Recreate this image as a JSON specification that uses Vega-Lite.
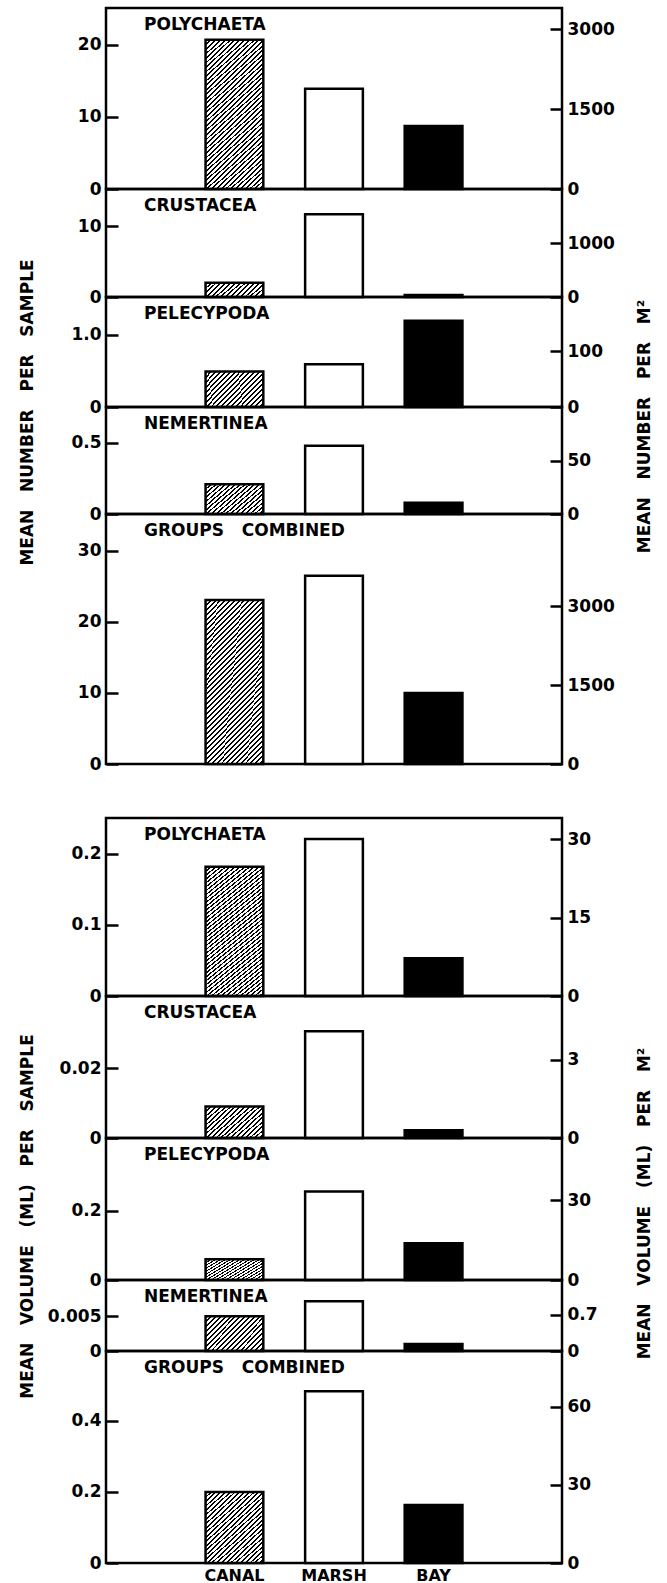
{
"$schema": "https://vega.github.io/schema/vega-lite/v6.json",
"background": "white",
"padding": {"left": 17, "top": 6, "right": 5, "bottom": 0},
"params": [
 {"name": "hA", "value": {"gradient": "linear", "x1": 0, "y1": 0, "x2": 1.18, "y2": 0.306, "stops": [
{"offset":0,"color":"#000"},{"offset":0.0267,"color":"#000"},{"offset":0.0267,"color":"#fff"},{"offset":0.0667,"color":"#fff"},
{"offset":0.0667,"color":"#000"},{"offset":0.0934,"color":"#000"},{"offset":0.0934,"color":"#fff"},{"offset":0.1333,"color":"#fff"},
{"offset":0.1333,"color":"#000"},{"offset":0.16,"color":"#000"},{"offset":0.16,"color":"#fff"},{"offset":0.2,"color":"#fff"},
{"offset":0.2,"color":"#000"},{"offset":0.2267,"color":"#000"},{"offset":0.2267,"color":"#fff"},{"offset":0.2667,"color":"#fff"},
{"offset":0.2667,"color":"#000"},{"offset":0.2934,"color":"#000"},{"offset":0.2934,"color":"#fff"},{"offset":0.3333,"color":"#fff"},
{"offset":0.3333,"color":"#000"},{"offset":0.36,"color":"#000"},{"offset":0.36,"color":"#fff"},{"offset":0.4,"color":"#fff"},
{"offset":0.4,"color":"#000"},{"offset":0.4267,"color":"#000"},{"offset":0.4267,"color":"#fff"},{"offset":0.4667,"color":"#fff"},
{"offset":0.4667,"color":"#000"},{"offset":0.4934,"color":"#000"},{"offset":0.4934,"color":"#fff"},{"offset":0.5333,"color":"#fff"},
{"offset":0.5333,"color":"#000"},{"offset":0.56,"color":"#000"},{"offset":0.56,"color":"#fff"},{"offset":0.6,"color":"#fff"},
{"offset":0.6,"color":"#000"},{"offset":0.6267,"color":"#000"},{"offset":0.6267,"color":"#fff"},{"offset":0.6667,"color":"#fff"},
{"offset":0.6667,"color":"#000"},{"offset":0.6934,"color":"#000"},{"offset":0.6934,"color":"#fff"},{"offset":0.7333,"color":"#fff"},
{"offset":0.7333,"color":"#000"},{"offset":0.76,"color":"#000"},{"offset":0.76,"color":"#fff"},{"offset":0.8,"color":"#fff"},
{"offset":0.8,"color":"#000"},{"offset":0.8267,"color":"#000"},{"offset":0.8267,"color":"#fff"},{"offset":0.8667,"color":"#fff"},
{"offset":0.8667,"color":"#000"},{"offset":0.8934,"color":"#000"},{"offset":0.8934,"color":"#fff"},{"offset":0.9333,"color":"#fff"},
{"offset":0.9333,"color":"#000"},{"offset":0.96,"color":"#000"},{"offset":0.96,"color":"#fff"},{"offset":1,"color":"#fff"}]}},
 {"name": "hB", "value": {"gradient": "linear", "x1": 0, "y1": 0, "x2": 1.179, "y2": 0.698, "stops": [
{"offset":0,"color":"#000"},{"offset":0.0211,"color":"#000"},{"offset":0.0211,"color":"#fff"},{"offset":0.0526,"color":"#fff"},
{"offset":0.0526,"color":"#000"},{"offset":0.0737,"color":"#000"},{"offset":0.0737,"color":"#fff"},{"offset":0.1053,"color":"#fff"},
{"offset":0.1053,"color":"#000"},{"offset":0.1264,"color":"#000"},{"offset":0.1264,"color":"#fff"},{"offset":0.1579,"color":"#fff"},
{"offset":0.1579,"color":"#000"},{"offset":0.179,"color":"#000"},{"offset":0.179,"color":"#fff"},{"offset":0.2105,"color":"#fff"},
{"offset":0.2105,"color":"#000"},{"offset":0.2316,"color":"#000"},{"offset":0.2316,"color":"#fff"},{"offset":0.2632,"color":"#fff"},
{"offset":0.2632,"color":"#000"},{"offset":0.2843,"color":"#000"},{"offset":0.2843,"color":"#fff"},{"offset":0.3158,"color":"#fff"},
{"offset":0.3158,"color":"#000"},{"offset":0.3369,"color":"#000"},{"offset":0.3369,"color":"#fff"},{"offset":0.3684,"color":"#fff"},
{"offset":0.3684,"color":"#000"},{"offset":0.3895,"color":"#000"},{"offset":0.3895,"color":"#fff"},{"offset":0.4211,"color":"#fff"},
{"offset":0.4211,"color":"#000"},{"offset":0.4422,"color":"#000"},{"offset":0.4422,"color":"#fff"},{"offset":0.4737,"color":"#fff"},
{"offset":0.4737,"color":"#000"},{"offset":0.4948,"color":"#000"},{"offset":0.4948,"color":"#fff"},{"offset":0.5263,"color":"#fff"},
{"offset":0.5263,"color":"#000"},{"offset":0.5474,"color":"#000"},{"offset":0.5474,"color":"#fff"},{"offset":0.5789,"color":"#fff"},
{"offset":0.5789,"color":"#000"},{"offset":0.6,"color":"#000"},{"offset":0.6,"color":"#fff"},{"offset":0.6316,"color":"#fff"},
{"offset":0.6316,"color":"#000"},{"offset":0.6527,"color":"#000"},{"offset":0.6527,"color":"#fff"},{"offset":0.6842,"color":"#fff"},
{"offset":0.6842,"color":"#000"},{"offset":0.7053,"color":"#000"},{"offset":0.7053,"color":"#fff"},{"offset":0.7368,"color":"#fff"},
{"offset":0.7368,"color":"#000"},{"offset":0.7579,"color":"#000"},{"offset":0.7579,"color":"#fff"},{"offset":0.7895,"color":"#fff"},
{"offset":0.7895,"color":"#000"},{"offset":0.8106,"color":"#000"},{"offset":0.8106,"color":"#fff"},{"offset":0.8421,"color":"#fff"},
{"offset":0.8421,"color":"#000"},{"offset":0.8632,"color":"#000"},{"offset":0.8632,"color":"#fff"},{"offset":0.8947,"color":"#fff"},
{"offset":0.8947,"color":"#000"},{"offset":0.9158,"color":"#000"},{"offset":0.9158,"color":"#fff"},{"offset":0.9474,"color":"#fff"},
{"offset":0.9474,"color":"#000"},{"offset":0.9685,"color":"#000"},{"offset":0.9685,"color":"#fff"},{"offset":1,"color":"#fff"}]}},
 {"name": "hC", "value": {"gradient": "linear", "x1": 0, "y1": 0, "x2": 0.848, "y2": 1.115, "stops": [
{"offset":0,"color":"#000"},{"offset":0.0143,"color":"#000"},{"offset":0.0143,"color":"#fff"},{"offset":0.0357,"color":"#fff"},
{"offset":0.0357,"color":"#000"},{"offset":0.05,"color":"#000"},{"offset":0.05,"color":"#fff"},{"offset":0.0714,"color":"#fff"},
{"offset":0.0714,"color":"#000"},{"offset":0.0857,"color":"#000"},{"offset":0.0857,"color":"#fff"},{"offset":0.1071,"color":"#fff"},
{"offset":0.1071,"color":"#000"},{"offset":0.1214,"color":"#000"},{"offset":0.1214,"color":"#fff"},{"offset":0.1429,"color":"#fff"},
{"offset":0.1429,"color":"#000"},{"offset":0.1572,"color":"#000"},{"offset":0.1572,"color":"#fff"},{"offset":0.1786,"color":"#fff"},
{"offset":0.1786,"color":"#000"},{"offset":0.1929,"color":"#000"},{"offset":0.1929,"color":"#fff"},{"offset":0.2143,"color":"#fff"},
{"offset":0.2143,"color":"#000"},{"offset":0.2286,"color":"#000"},{"offset":0.2286,"color":"#fff"},{"offset":0.25,"color":"#fff"},
{"offset":0.25,"color":"#000"},{"offset":0.2643,"color":"#000"},{"offset":0.2643,"color":"#fff"},{"offset":0.2857,"color":"#fff"},
{"offset":0.2857,"color":"#000"},{"offset":0.3,"color":"#000"},{"offset":0.3,"color":"#fff"},{"offset":0.3214,"color":"#fff"},
{"offset":0.3214,"color":"#000"},{"offset":0.3357,"color":"#000"},{"offset":0.3357,"color":"#fff"},{"offset":0.3571,"color":"#fff"},
{"offset":0.3571,"color":"#000"},{"offset":0.3714,"color":"#000"},{"offset":0.3714,"color":"#fff"},{"offset":0.3929,"color":"#fff"},
{"offset":0.3929,"color":"#000"},{"offset":0.4072,"color":"#000"},{"offset":0.4072,"color":"#fff"},{"offset":0.4286,"color":"#fff"},
{"offset":0.4286,"color":"#000"},{"offset":0.4429,"color":"#000"},{"offset":0.4429,"color":"#fff"},{"offset":0.4643,"color":"#fff"},
{"offset":0.4643,"color":"#000"},{"offset":0.4786,"color":"#000"},{"offset":0.4786,"color":"#fff"},{"offset":0.5,"color":"#fff"},
{"offset":0.5,"color":"#000"},{"offset":0.5143,"color":"#000"},{"offset":0.5143,"color":"#fff"},{"offset":0.5357,"color":"#fff"},
{"offset":0.5357,"color":"#000"},{"offset":0.55,"color":"#000"},{"offset":0.55,"color":"#fff"},{"offset":0.5714,"color":"#fff"},
{"offset":0.5714,"color":"#000"},{"offset":0.5857,"color":"#000"},{"offset":0.5857,"color":"#fff"},{"offset":0.6071,"color":"#fff"},
{"offset":0.6071,"color":"#000"},{"offset":0.6214,"color":"#000"},{"offset":0.6214,"color":"#fff"},{"offset":0.6429,"color":"#fff"},
{"offset":0.6429,"color":"#000"},{"offset":0.6572,"color":"#000"},{"offset":0.6572,"color":"#fff"},{"offset":0.6786,"color":"#fff"},
{"offset":0.6786,"color":"#000"},{"offset":0.6929,"color":"#000"},{"offset":0.6929,"color":"#fff"},{"offset":0.7143,"color":"#fff"},
{"offset":0.7143,"color":"#000"},{"offset":0.7286,"color":"#000"},{"offset":0.7286,"color":"#fff"},{"offset":0.75,"color":"#fff"},
{"offset":0.75,"color":"#000"},{"offset":0.7643,"color":"#000"},{"offset":0.7643,"color":"#fff"},{"offset":0.7857,"color":"#fff"},
{"offset":0.7857,"color":"#000"},{"offset":0.8,"color":"#000"},{"offset":0.8,"color":"#fff"},{"offset":0.8214,"color":"#fff"},
{"offset":0.8214,"color":"#000"},{"offset":0.8357,"color":"#000"},{"offset":0.8357,"color":"#fff"},{"offset":0.8571,"color":"#fff"},
{"offset":0.8571,"color":"#000"},{"offset":0.8714,"color":"#000"},{"offset":0.8714,"color":"#fff"},{"offset":0.8929,"color":"#fff"},
{"offset":0.8929,"color":"#000"},{"offset":0.9072,"color":"#000"},{"offset":0.9072,"color":"#fff"},{"offset":0.9286,"color":"#fff"},
{"offset":0.9286,"color":"#000"},{"offset":0.9429,"color":"#000"},{"offset":0.9429,"color":"#fff"},{"offset":0.9643,"color":"#fff"},
{"offset":0.9643,"color":"#000"},{"offset":0.9786,"color":"#000"},{"offset":0.9786,"color":"#fff"},{"offset":1,"color":"#fff"}]}},
 {"name": "hD", "value": {"gradient": "linear", "x1": 0, "y1": 0, "x2": 0.4395, "y2": 1.2045, "stops": [
{"offset":0,"color":"#000"},{"offset":0.0089,"color":"#000"},{"offset":0.0089,"color":"#fff"},{"offset":0.0222,"color":"#fff"},
{"offset":0.0222,"color":"#000"},{"offset":0.0311,"color":"#000"},{"offset":0.0311,"color":"#fff"},{"offset":0.0444,"color":"#fff"},
{"offset":0.0444,"color":"#000"},{"offset":0.0533,"color":"#000"},{"offset":0.0533,"color":"#fff"},{"offset":0.0667,"color":"#fff"},
{"offset":0.0667,"color":"#000"},{"offset":0.0756,"color":"#000"},{"offset":0.0756,"color":"#fff"},{"offset":0.0889,"color":"#fff"},
{"offset":0.0889,"color":"#000"},{"offset":0.0978,"color":"#000"},{"offset":0.0978,"color":"#fff"},{"offset":0.1111,"color":"#fff"},
{"offset":0.1111,"color":"#000"},{"offset":0.12,"color":"#000"},{"offset":0.12,"color":"#fff"},{"offset":0.1333,"color":"#fff"},
{"offset":0.1333,"color":"#000"},{"offset":0.1422,"color":"#000"},{"offset":0.1422,"color":"#fff"},{"offset":0.1556,"color":"#fff"},
{"offset":0.1556,"color":"#000"},{"offset":0.1645,"color":"#000"},{"offset":0.1645,"color":"#fff"},{"offset":0.1778,"color":"#fff"},
{"offset":0.1778,"color":"#000"},{"offset":0.1867,"color":"#000"},{"offset":0.1867,"color":"#fff"},{"offset":0.2,"color":"#fff"},
{"offset":0.2,"color":"#000"},{"offset":0.2089,"color":"#000"},{"offset":0.2089,"color":"#fff"},{"offset":0.2222,"color":"#fff"},
{"offset":0.2222,"color":"#000"},{"offset":0.2311,"color":"#000"},{"offset":0.2311,"color":"#fff"},{"offset":0.2444,"color":"#fff"},
{"offset":0.2444,"color":"#000"},{"offset":0.2533,"color":"#000"},{"offset":0.2533,"color":"#fff"},{"offset":0.2667,"color":"#fff"},
{"offset":0.2667,"color":"#000"},{"offset":0.2756,"color":"#000"},{"offset":0.2756,"color":"#fff"},{"offset":0.2889,"color":"#fff"},
{"offset":0.2889,"color":"#000"},{"offset":0.2978,"color":"#000"},{"offset":0.2978,"color":"#fff"},{"offset":0.3111,"color":"#fff"},
{"offset":0.3111,"color":"#000"},{"offset":0.32,"color":"#000"},{"offset":0.32,"color":"#fff"},{"offset":0.3333,"color":"#fff"},
{"offset":0.3333,"color":"#000"},{"offset":0.3422,"color":"#000"},{"offset":0.3422,"color":"#fff"},{"offset":0.3556,"color":"#fff"},
{"offset":0.3556,"color":"#000"},{"offset":0.3645,"color":"#000"},{"offset":0.3645,"color":"#fff"},{"offset":0.3778,"color":"#fff"},
{"offset":0.3778,"color":"#000"},{"offset":0.3867,"color":"#000"},{"offset":0.3867,"color":"#fff"},{"offset":0.4,"color":"#fff"},
{"offset":0.4,"color":"#000"},{"offset":0.4089,"color":"#000"},{"offset":0.4089,"color":"#fff"},{"offset":0.4222,"color":"#fff"},
{"offset":0.4222,"color":"#000"},{"offset":0.4311,"color":"#000"},{"offset":0.4311,"color":"#fff"},{"offset":0.4444,"color":"#fff"},
{"offset":0.4444,"color":"#000"},{"offset":0.4533,"color":"#000"},{"offset":0.4533,"color":"#fff"},{"offset":0.4667,"color":"#fff"},
{"offset":0.4667,"color":"#000"},{"offset":0.4756,"color":"#000"},{"offset":0.4756,"color":"#fff"},{"offset":0.4889,"color":"#fff"},
{"offset":0.4889,"color":"#000"},{"offset":0.4978,"color":"#000"},{"offset":0.4978,"color":"#fff"},{"offset":0.5111,"color":"#fff"},
{"offset":0.5111,"color":"#000"},{"offset":0.52,"color":"#000"},{"offset":0.52,"color":"#fff"},{"offset":0.5333,"color":"#fff"},
{"offset":0.5333,"color":"#000"},{"offset":0.5422,"color":"#000"},{"offset":0.5422,"color":"#fff"},{"offset":0.5556,"color":"#fff"},
{"offset":0.5556,"color":"#000"},{"offset":0.5645,"color":"#000"},{"offset":0.5645,"color":"#fff"},{"offset":0.5778,"color":"#fff"},
{"offset":0.5778,"color":"#000"},{"offset":0.5867,"color":"#000"},{"offset":0.5867,"color":"#fff"},{"offset":0.6,"color":"#fff"},
{"offset":0.6,"color":"#000"},{"offset":0.6089,"color":"#000"},{"offset":0.6089,"color":"#fff"},{"offset":0.6222,"color":"#fff"},
{"offset":0.6222,"color":"#000"},{"offset":0.6311,"color":"#000"},{"offset":0.6311,"color":"#fff"},{"offset":0.6444,"color":"#fff"},
{"offset":0.6444,"color":"#000"},{"offset":0.6533,"color":"#000"},{"offset":0.6533,"color":"#fff"},{"offset":0.6667,"color":"#fff"},
{"offset":0.6667,"color":"#000"},{"offset":0.6756,"color":"#000"},{"offset":0.6756,"color":"#fff"},{"offset":0.6889,"color":"#fff"},
{"offset":0.6889,"color":"#000"},{"offset":0.6978,"color":"#000"},{"offset":0.6978,"color":"#fff"},{"offset":0.7111,"color":"#fff"},
{"offset":0.7111,"color":"#000"},{"offset":0.72,"color":"#000"},{"offset":0.72,"color":"#fff"},{"offset":0.7333,"color":"#fff"},
{"offset":0.7333,"color":"#000"},{"offset":0.7422,"color":"#000"},{"offset":0.7422,"color":"#fff"},{"offset":0.7556,"color":"#fff"},
{"offset":0.7556,"color":"#000"},{"offset":0.7645,"color":"#000"},{"offset":0.7645,"color":"#fff"},{"offset":0.7778,"color":"#fff"},
{"offset":0.7778,"color":"#000"},{"offset":0.7867,"color":"#000"},{"offset":0.7867,"color":"#fff"},{"offset":0.8,"color":"#fff"},
{"offset":0.8,"color":"#000"},{"offset":0.8089,"color":"#000"},{"offset":0.8089,"color":"#fff"},{"offset":0.8222,"color":"#fff"},
{"offset":0.8222,"color":"#000"},{"offset":0.8311,"color":"#000"},{"offset":0.8311,"color":"#fff"},{"offset":0.8444,"color":"#fff"},
{"offset":0.8444,"color":"#000"},{"offset":0.8533,"color":"#000"},{"offset":0.8533,"color":"#fff"},{"offset":0.8667,"color":"#fff"},
{"offset":0.8667,"color":"#000"},{"offset":0.8756,"color":"#000"},{"offset":0.8756,"color":"#fff"},{"offset":0.8889,"color":"#fff"},
{"offset":0.8889,"color":"#000"},{"offset":0.8978,"color":"#000"},{"offset":0.8978,"color":"#fff"},{"offset":0.9111,"color":"#fff"},
{"offset":0.9111,"color":"#000"},{"offset":0.92,"color":"#000"},{"offset":0.92,"color":"#fff"},{"offset":0.9333,"color":"#fff"},
{"offset":0.9333,"color":"#000"},{"offset":0.9422,"color":"#000"},{"offset":0.9422,"color":"#fff"},{"offset":0.9556,"color":"#fff"},
{"offset":0.9556,"color":"#000"},{"offset":0.9645,"color":"#000"},{"offset":0.9645,"color":"#fff"},{"offset":0.9778,"color":"#fff"},
{"offset":0.9778,"color":"#000"},{"offset":0.9867,"color":"#000"},{"offset":0.9867,"color":"#fff"},{"offset":1,"color":"#fff"}]}}
],
"datasets": {"d": [
{"g":"N","t":"POLYCHAETA","s":"CANAL","v":20.7},{"g":"N","t":"POLYCHAETA","s":"MARSH","v":13.9},{"g":"N","t":"POLYCHAETA","s":"BAY","v":8.75},
{"g":"N","t":"CRUSTACEA","s":"CANAL","v":2.0},{"g":"N","t":"CRUSTACEA","s":"MARSH","v":11.7},{"g":"N","t":"CRUSTACEA","s":"BAY","v":0.28},
{"g":"N","t":"PELECYPODA","s":"CANAL","v":0.49},{"g":"N","t":"PELECYPODA","s":"MARSH","v":0.59},{"g":"N","t":"PELECYPODA","s":"BAY","v":1.19},
{"g":"N","t":"NEMERTINEA","s":"CANAL","v":0.21},{"g":"N","t":"NEMERTINEA","s":"MARSH","v":0.48},{"g":"N","t":"NEMERTINEA","s":"BAY","v":0.08},
{"g":"N","t":"COMBINED","s":"CANAL","v":23.1},{"g":"N","t":"COMBINED","s":"MARSH","v":26.5},{"g":"N","t":"COMBINED","s":"BAY","v":10.0},
{"g":"V","t":"POLYCHAETA","s":"CANAL","v":0.182},{"g":"V","t":"POLYCHAETA","s":"MARSH","v":0.221},{"g":"V","t":"POLYCHAETA","s":"BAY","v":0.053},
{"g":"V","t":"CRUSTACEA","s":"CANAL","v":0.009},{"g":"V","t":"CRUSTACEA","s":"MARSH","v":0.0305},{"g":"V","t":"CRUSTACEA","s":"BAY","v":0.0022},
{"g":"V","t":"PELECYPODA","s":"CANAL","v":0.06},{"g":"V","t":"PELECYPODA","s":"MARSH","v":0.255},{"g":"V","t":"PELECYPODA","s":"BAY","v":0.106},
{"g":"V","t":"NEMERTINEA","s":"CANAL","v":0.005},{"g":"V","t":"NEMERTINEA","s":"MARSH","v":0.00716},{"g":"V","t":"NEMERTINEA","s":"BAY","v":0.001},
{"g":"V","t":"COMBINED","s":"CANAL","v":0.2},{"g":"V","t":"COMBINED","s":"MARSH","v":0.484},{"g":"V","t":"COMBINED","s":"BAY","v":0.163}
]},
"data": {"name": "d"},
"spacing": 42,
"vconcat": [
{"spacing": 0, "bounds": "flush", "vconcat": [
 {"width": 456, "height": 181, "title": {"text": "POLYCHAETA"},
  "transform": [{"filter": "datum.g==='N' && datum.t==='POLYCHAETA'"}],
  "layer": [
   {"encoding": {"x": {"field":"s","type":"nominal","scale":{"domain":["CANAL","MARSH","BAY"],"paddingInner":0.42,"paddingOuter":1.22},"axis":null},
                 "y": {"field":"v","type":"quantitative","scale":{"domain":[0,25.1],"nice":false},"axis":{"values":[0,10,20],"labelExpr":"''+datum.value","title":"MEAN \u00a0 NUMBER \u00a0 PER \u00a0 SAMPLE","titleX":-78.5,"titleY":404,"titleAngle":270,"titleBaseline":"middle","titleAlign":"center"}}},
    "layer": [
     {"transform":[{"filter":"datum.s==='CANAL'"}],"mark":{"type":"bar","fill":{"expr":"hD"}}},
     {"transform":[{"filter":"datum.s!=='CANAL'"}],"mark":{"type":"bar"},"encoding":{"fill":{"field":"s","type":"nominal","scale":{"domain":["MARSH","BAY"],"range":["white","black"]},"legend":null}}}
    ]},
   {"mark":{"type":"rule","opacity":0},"encoding":{"y":{"datum":0,"type":"quantitative","scale":{"domain":[0,3400],"nice":false},"axis":{"orient":"right","values":[0,1500,3000],"labelExpr":"''+datum.value","title":"MEAN \u00a0 NUMBER \u00a0 PER \u00a0 M²","titleX":82.5,"titleY":418,"titleAngle":270,"titleBaseline":"middle","titleAlign":"center"}}}}
  ],
  "resolve": {"scale": {"y": "independent"}}},
 {"width": 456, "height": 108, "title": {"text": "CRUSTACEA"},
  "transform": [{"filter": "datum.g==='N' && datum.t==='CRUSTACEA'"}],
  "layer": [
   {"encoding": {"x": {"field":"s","type":"nominal","scale":{"domain":["CANAL","MARSH","BAY"],"paddingInner":0.42,"paddingOuter":1.22},"axis":null},
                 "y": {"field":"v","type":"quantitative","scale":{"domain":[0,15.28],"nice":false},"axis":{"values":[0,10],"labelExpr":"''+datum.value","title":null}}},
    "layer": [
     {"transform":[{"filter":"datum.s==='CANAL'"}],"mark":{"type":"bar","fill":{"expr":"hA"}}},
     {"transform":[{"filter":"datum.s!=='CANAL'"}],"mark":{"type":"bar"},"encoding":{"fill":{"field":"s","type":"nominal","scale":{"domain":["MARSH","BAY"],"range":["white","black"]},"legend":null}}}
    ]},
   {"mark":{"type":"rule","opacity":0},"encoding":{"y":{"datum":0,"type":"quantitative","scale":{"domain":[0,2000],"nice":false},"axis":{"orient":"right","values":[0,1000],"labelExpr":"''+datum.value","title":null}}}}
  ],
  "resolve": {"scale": {"y": "independent"}}},
 {"width": 456, "height": 110, "title": {"text": "PELECYPODA"},
  "transform": [{"filter": "datum.g==='N' && datum.t==='PELECYPODA'"}],
  "layer": [
   {"encoding": {"x": {"field":"s","type":"nominal","scale":{"domain":["CANAL","MARSH","BAY"],"paddingInner":0.42,"paddingOuter":1.22},"axis":null},
                 "y": {"field":"v","type":"quantitative","scale":{"domain":[0,1.519],"nice":false},"axis":{"values":[0,1],"labelExpr":"datum.value===0?'0':format(datum.value,'.1f')","title":null}}},
    "layer": [
     {"transform":[{"filter":"datum.s==='CANAL'"}],"mark":{"type":"bar","fill":{"expr":"hB"}}},
     {"transform":[{"filter":"datum.s!=='CANAL'"}],"mark":{"type":"bar"},"encoding":{"fill":{"field":"s","type":"nominal","scale":{"domain":["MARSH","BAY"],"range":["white","black"]},"legend":null}}}
    ]},
   {"mark":{"type":"rule","opacity":0},"encoding":{"y":{"datum":0,"type":"quantitative","scale":{"domain":[0,197.5],"nice":false},"axis":{"orient":"right","values":[0,100],"labelExpr":"''+datum.value","title":null}}}}
  ],
  "resolve": {"scale": {"y": "independent"}}},
 {"width": 456, "height": 107, "title": {"text": "NEMERTINEA"},
  "transform": [{"filter": "datum.g==='N' && datum.t==='NEMERTINEA'"}],
  "layer": [
   {"encoding": {"x": {"field":"s","type":"nominal","scale":{"domain":["CANAL","MARSH","BAY"],"paddingInner":0.42,"paddingOuter":1.22},"axis":null},
                 "y": {"field":"v","type":"quantitative","scale":{"domain":[0,0.7535],"nice":false},"axis":{"values":[0,0.5],"labelExpr":"''+datum.value","title":null}}},
    "layer": [
     {"transform":[{"filter":"datum.s==='CANAL'"}],"mark":{"type":"bar","fill":{"expr":"hB"}}},
     {"transform":[{"filter":"datum.s!=='CANAL'"}],"mark":{"type":"bar"},"encoding":{"fill":{"field":"s","type":"nominal","scale":{"domain":["MARSH","BAY"],"range":["white","black"]},"legend":null}}}
    ]},
   {"mark":{"type":"rule","opacity":0},"encoding":{"y":{"datum":0,"type":"quantitative","scale":{"domain":[0,100.2],"nice":false},"axis":{"orient":"right","values":[0,50],"labelExpr":"''+datum.value","title":null}}}}
  ],
  "resolve": {"scale": {"y": "independent"}}},
 {"width": 456, "height": 250, "title": {"text": "GROUPS \u00a0 COMBINED"},
  "transform": [{"filter": "datum.g==='N' && datum.t==='COMBINED'"}],
  "layer": [
   {"encoding": {"x": {"field":"s","type":"nominal","scale":{"domain":["CANAL","MARSH","BAY"],"paddingInner":0.42,"paddingOuter":1.22},"axis":null},
                 "y": {"field":"v","type":"quantitative","scale":{"domain":[0,35.2],"nice":false},"axis":{"values":[0,10,20,30],"labelExpr":"''+datum.value","title":null}}},
    "layer": [
     {"transform":[{"filter":"datum.s==='CANAL'"}],"mark":{"type":"bar","fill":{"expr":"hD"}}},
     {"transform":[{"filter":"datum.s!=='CANAL'"}],"mark":{"type":"bar"},"encoding":{"fill":{"field":"s","type":"nominal","scale":{"domain":["MARSH","BAY"],"range":["white","black"]},"legend":null}}}
    ]},
   {"mark":{"type":"rule","opacity":0},"encoding":{"y":{"datum":0,"type":"quantitative","scale":{"domain":[0,4757],"nice":false},"axis":{"orient":"right","values":[0,1500,3000],"labelExpr":"''+datum.value","title":null}}}}
  ],
  "resolve": {"scale": {"y": "independent"}}}
]},
{"spacing": 0, "bounds": "flush", "vconcat": [
 {"width": 456, "height": 178, "title": {"text": "POLYCHAETA"},
  "transform": [{"filter": "datum.g==='V' && datum.t==='POLYCHAETA'"}],
  "layer": [
   {"encoding": {"x": {"field":"s","type":"nominal","scale":{"domain":["CANAL","MARSH","BAY"],"paddingInner":0.42,"paddingOuter":1.22},"axis":null},
                 "y": {"field":"v","type":"quantitative","scale":{"domain":[0,0.2507],"nice":false},"axis":{"values":[0,0.1,0.2],"labelExpr":"''+datum.value","title":"MEAN \u00a0 VOLUME \u00a0 (ML) \u00a0 PER \u00a0 SAMPLE","titleX":-78.5,"titleY":398,"titleAngle":270,"titleBaseline":"middle","titleAlign":"center"}}},
    "layer": [
     {"transform":[{"filter":"datum.s==='CANAL'"}],"mark":{"type":"bar","fill":{"expr":"hD"}}},
     {"transform":[{"filter":"datum.s!=='CANAL'"}],"mark":{"type":"bar"},"encoding":{"fill":{"field":"s","type":"nominal","scale":{"domain":["MARSH","BAY"],"range":["white","black"]},"legend":null}}}
    ]},
   {"mark":{"type":"rule","opacity":0},"encoding":{"y":{"datum":0,"type":"quantitative","scale":{"domain":[0,34.1],"nice":false},"axis":{"orient":"right","values":[0,15,30],"labelExpr":"''+datum.value","title":"MEAN \u00a0 VOLUME \u00a0 (ML) \u00a0 PER \u00a0 M²","titleX":82.5,"titleY":385,"titleAngle":270,"titleBaseline":"middle","titleAlign":"center"}}}}
  ],
  "resolve": {"scale": {"y": "independent"}}},
 {"width": 456, "height": 142, "title": {"text": "CRUSTACEA"},
  "transform": [{"filter": "datum.g==='V' && datum.t==='CRUSTACEA'"}],
  "layer": [
   {"encoding": {"x": {"field":"s","type":"nominal","scale":{"domain":["CANAL","MARSH","BAY"],"paddingInner":0.42,"paddingOuter":1.22},"axis":null},
                 "y": {"field":"v","type":"quantitative","scale":{"domain":[0,0.0406],"nice":false},"axis":{"values":[0,0.02],"labelExpr":"''+datum.value","title":null}}},
    "layer": [
     {"transform":[{"filter":"datum.s==='CANAL'"}],"mark":{"type":"bar","fill":{"expr":"hB"}}},
     {"transform":[{"filter":"datum.s!=='CANAL'"}],"mark":{"type":"bar"},"encoding":{"fill":{"field":"s","type":"nominal","scale":{"domain":["MARSH","BAY"],"range":["white","black"]},"legend":null}}}
    ]},
   {"mark":{"type":"rule","opacity":0},"encoding":{"y":{"datum":0,"type":"quantitative","scale":{"domain":[0,5.44],"nice":false},"axis":{"orient":"right","values":[0,3],"labelExpr":"''+datum.value","title":null}}}}
  ],
  "resolve": {"scale": {"y": "independent"}}},
 {"width": 456, "height": 142, "title": {"text": "PELECYPODA"},
  "transform": [{"filter": "datum.g==='V' && datum.t==='PELECYPODA'"}],
  "layer": [
   {"encoding": {"x": {"field":"s","type":"nominal","scale":{"domain":["CANAL","MARSH","BAY"],"paddingInner":0.42,"paddingOuter":1.22},"axis":null},
                 "y": {"field":"v","type":"quantitative","scale":{"domain":[0,0.409],"nice":false},"axis":{"values":[0,0.2],"labelExpr":"''+datum.value","title":null}}},
    "layer": [
     {"transform":[{"filter":"datum.s==='CANAL'"}],"mark":{"type":"bar","fill":{"expr":"hB"}}},
     {"transform":[{"filter":"datum.s!=='CANAL'"}],"mark":{"type":"bar"},"encoding":{"fill":{"field":"s","type":"nominal","scale":{"domain":["MARSH","BAY"],"range":["white","black"]},"legend":null}}}
    ]},
   {"mark":{"type":"rule","opacity":0},"encoding":{"y":{"datum":0,"type":"quantitative","scale":{"domain":[0,53.25],"nice":false},"axis":{"orient":"right","values":[0,30],"labelExpr":"''+datum.value","title":null}}}}
  ],
  "resolve": {"scale": {"y": "independent"}}},
 {"width": 456, "height": 71, "title": {"text": "NEMERTINEA"},
  "transform": [{"filter": "datum.g==='V' && datum.t==='NEMERTINEA'"}],
  "layer": [
   {"encoding": {"x": {"field":"s","type":"nominal","scale":{"domain":["CANAL","MARSH","BAY"],"paddingInner":0.42,"paddingOuter":1.22},"axis":null},
                 "y": {"field":"v","type":"quantitative","scale":{"domain":[0,0.01023],"nice":false},"axis":{"values":[0,0.005],"labelExpr":"''+datum.value","title":null}}},
    "layer": [
     {"transform":[{"filter":"datum.s==='CANAL'"}],"mark":{"type":"bar","fill":{"expr":"hB"}}},
     {"transform":[{"filter":"datum.s!=='CANAL'"}],"mark":{"type":"bar"},"encoding":{"fill":{"field":"s","type":"nominal","scale":{"domain":["MARSH","BAY"],"range":["white","black"]},"legend":null}}}
    ]},
   {"mark":{"type":"rule","opacity":0},"encoding":{"y":{"datum":0,"type":"quantitative","scale":{"domain":[0,1.369],"nice":false},"axis":{"orient":"right","values":[0,0.7],"labelExpr":"''+datum.value","title":null}}}}
  ],
  "resolve": {"scale": {"y": "independent"}}},
 {"width": 456, "height": 212, "title": {"text": "GROUPS \u00a0 COMBINED"},
  "transform": [{"filter": "datum.g==='V' && datum.t==='COMBINED'"}],
  "layer": [
   {"encoding": {"x": {"field":"s","type":"nominal","scale":{"domain":["CANAL","MARSH","BAY"],"paddingInner":0.42,"paddingOuter":1.22},"axis":{"orient":"bottom","labelAngle":0,"ticks":false,"domain":false,"labelPadding":4,"title":null,"labelFontSize":16}},
                 "y": {"field":"v","type":"quantitative","scale":{"domain":[0,0.597],"nice":false},"axis":{"values":[0,0.2,0.4],"labelExpr":"''+datum.value","title":null}}},
    "layer": [
     {"transform":[{"filter":"datum.s==='CANAL'"}],"mark":{"type":"bar","fill":{"expr":"hC"}}},
     {"transform":[{"filter":"datum.s!=='CANAL'"}],"mark":{"type":"bar"},"encoding":{"fill":{"field":"s","type":"nominal","scale":{"domain":["MARSH","BAY"],"range":["white","black"]},"legend":null}}}
    ]},
   {"mark":{"type":"rule","opacity":0},"encoding":{"y":{"datum":0,"type":"quantitative","scale":{"domain":[0,81.4],"nice":false},"axis":{"orient":"right","values":[0,30,60],"labelExpr":"''+datum.value","title":null}}}}
  ],
  "resolve": {"scale": {"y": "independent"}}}
]}
],
"config": {
 "view": {"stroke": "black", "strokeWidth": 2.5},
 "font": "DejaVu Sans",
 "bar": {"stroke": "black", "strokeWidth": 2.5},
 "axis": {"labelFont": "DejaVu Sans", "labelFontWeight": "bold", "labelFontSize": 17, "labelColor": "black",
          "titleFont": "DejaVu Sans", "titleFontWeight": "bold", "titleFontSize": 17, "titleColor": "black",
          "tickColor": "black", "tickWidth": 2.5, "tickSize": -12, "labelPadding": 17,
          "domain": false, "grid": false, "labelFlush": false, "labelOverlap": false},
 "title": {"anchor": "start", "frame": "group", "offset": -26, "dx": 38, "font": "DejaVu Sans", "fontWeight": "bold", "fontSize": 17, "color": "black", "baseline": "alphabetic"}
}
}
